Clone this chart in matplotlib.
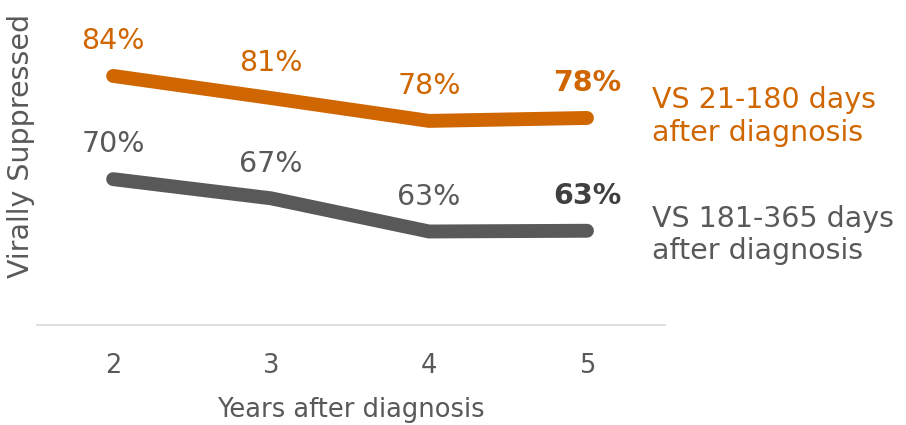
import matplotlib
matplotlib.use("Agg")
import matplotlib.pyplot as plt

years = [2, 3, 4, 5]
vs_early = [84, 81, 77.9, 78.3]
vs_late = [70, 67.4, 62.9, 63.0]
early_name = "VS 21-180 days\nafter diagnosis"
late_name = "VS 181-365 days\nafter diagnosis"

ORANGE = "#D06600"
GRAY = "#595959"
TEXT = "#595959"

plt.rcParams.update({
    "font.family": "DejaVu Sans",
    "figure.facecolor": "white",
    "axes.facecolor": "white",
})

fig = plt.figure(figsize=(9.06, 4.25), dpi=100)
ax = fig.add_axes([0.041, 0.235, 0.693, 0.765])

# (values, line colour, bold label colour, name, vertical nudge for name)
series = [
    (vs_early, ORANGE, ORANGE, early_name, 1),
    (vs_late, GRAY, "#404040", late_name, -3),
]
for vals, col, bold_col, name, dy in series:
    ax.plot(years, vals, color=col, lw=10, solid_capstyle="round",
            solid_joinstyle="round")
    for i, (x, v) in enumerate(zip(years, vals)):
        last = i == len(vals) - 1
        ax.annotate(f"{round(v)}%", (x, v), xytext=(0, 25),
                    textcoords="offset points", ha="center", va="center",
                    fontsize=20.5, color=bold_col if last else col,
                    fontweight="bold" if last else "normal")
    ax.annotate(name, (years[-1], vals[-1]), xytext=(47, dy),
                textcoords="offset points", ha="left", va="center",
                fontsize=20.5, color=col, linespacing=1.2,
                annotation_clip=False)

ax.set_xlim(1.519, 5.494)
ax.set_ylim(50.2, 94.3)
ax.set_xticks(years)
ax.set_xticklabels([str(y) for y in years])
ax.set_yticks([])
ax.tick_params(axis="x", length=0, pad=20, labelsize=18.5, labelcolor=TEXT)
for s in ("top", "right", "left"):
    ax.spines[s].set_visible(False)
ax.spines["bottom"].set_color("#D9D9D9")
ax.spines["bottom"].set_linewidth(1.2)

ax.set_xlabel("Years after diagnosis", fontsize=18.5, color=TEXT, labelpad=13)
ax.set_ylabel("Virally Suppressed", fontsize=20.5, color=TEXT)
ax.yaxis.set_label_coords(-0.004, 0.55)

fig.savefig("out.png", dpi=100)
